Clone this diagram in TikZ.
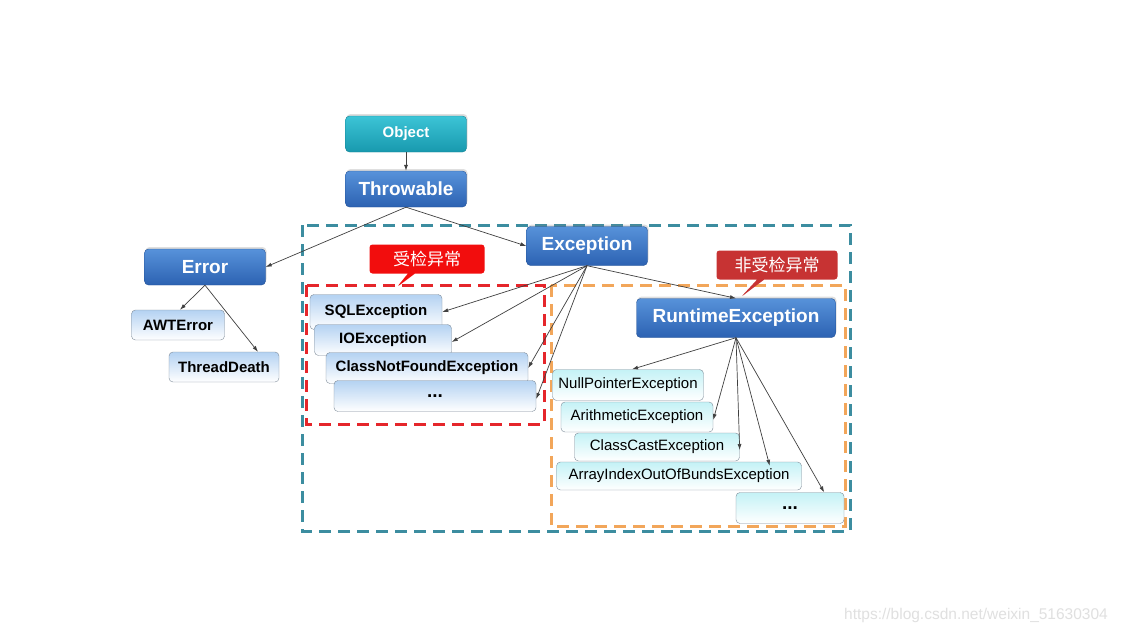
\documentclass[tikz,border=0pt]{standalone}
\usepackage{fontspec}
\setmainfont{Liberation Sans}
\newfontfamily\cjk{Noto Sans CJK SC}
\usetikzlibrary{arrows.meta,shapes.callouts,shadows}
\definecolor{blueTop}{HTML}{5792DA}
\definecolor{blueBot}{HTML}{2C62B2}
\definecolor{cyanTop}{HTML}{3CC4D6}
\definecolor{cyanBot}{HTML}{1899AE}
\definecolor{paleBlue}{HTML}{B4D2F2}
\definecolor{paleCyan}{HTML}{C4F2F6}
\definecolor{edgeGray}{HTML}{7F8C99}
\definecolor{tealDash}{HTML}{3C8DA0}
\definecolor{redDash}{HTML}{E5262B}
\definecolor{orangeDash}{HTML}{F2A65A}
\definecolor{calloutRed}{HTML}{F20D0D}
\definecolor{calloutDark}{HTML}{C73333}
\tikzset{
  bigbox/.style={rectangle,rounded corners=4,inner sep=0,minimum height=36,
    top color=blueTop,bottom color=blueBot,draw=blueBot!85!black,
    text=white,font=\fontsize{19}{22}\selectfont\bfseries,
    drop shadow={opacity=0.25,shadow xshift=1,shadow yshift=-2}},
  checkbox/.style={rectangle,rounded corners=4,inner sep=0,minimum height=31,
    top color=paleBlue,bottom color=white,draw=edgeGray,
    font=\fontsize{15}{18}\selectfont\bfseries},
  freebox/.style={rectangle,rounded corners=4,inner sep=0,minimum height=30,
    top color=paleCyan,bottom color=white,draw=edgeGray,
    font=\fontsize{15}{18}\selectfont},
  tag/.style={rectangle callout,rounded corners=3,inner sep=0,minimum height=29,
    text=white,font=\cjk\fontsize{17}{20}\selectfont},
  link/.style={-{Latex[length=6,width=4]},draw=black!75,line width=0.7},
  zone/.style={dashed,dash pattern=on 12 off 7,line width=3}
}
\begin{document}
\begin{tikzpicture}[x=1pt,y=-1pt]
  \useasboundingbox[fill=white] (0,0) rectangle (1121,634);
  %% Zones
  \draw[zone,tealDash] (302,225) rectangle (850,531);
  \draw[zone,redDash] (306,285) rectangle (544,424);
  \draw[zone,orangeDash] (551,285) rectangle (845,526);
  %% Top of the tree
  \node[bigbox,top color=cyanTop,bottom color=cyanBot,draw=cyanBot!85!black,
    minimum width=121,font=\fontsize{15}{18}\selectfont\bfseries] (Obj) at (406,134) {Object};
  \node[bigbox,minimum width=121] (Thr) at (406,189) {Throwable};
  \node[bigbox,minimum width=121] (Err) at (205,267) {Error};
  \node[bigbox,minimum width=121,minimum height=39] (Exc) at (587,246) {Exception};
  \node[bigbox,minimum width=199,minimum height=39] (Run) at (736,318) {RuntimeException};
  %% Error side
  \node[checkbox,minimum width=93,minimum height=30] (Awt) at (178,325) {AWTError};
  \node[checkbox,minimum width=110,minimum height=30] (Thd) at (224,367) {ThreadDeath};
  %% Checked exceptions
  \node[checkbox,minimum width=132,minimum height=35] (Sql) at (376,312) {SQLException};
  \node[checkbox,minimum width=137] (Ioe) at (383,340) {IOException};
  \node[checkbox,minimum width=202] (Cnf) at (427,368) {ClassNotFoundException};
  \node[checkbox,minimum width=202,font=\fontsize{19}{18}\selectfont\bfseries] (Chk) at (435,396) {...};
  %% Unchecked exceptions
  \node[freebox,minimum width=151,minimum height=31] (Npe) at (628,385) {NullPointerException};
  \node[freebox,minimum width=152] (Ari) at (637,417) {ArithmeticException};
  \node[freebox,minimum width=165,minimum height=28] (Cce) at (657,447) {ClassCastException};
  \node[freebox,minimum width=245,minimum height=28] (Aio) at (679,476) {ArrayIndexOutOfBundsException};
  \node[freebox,minimum width=108,minimum height=31,font=\fontsize{19}{18}\selectfont\bfseries] (Unc) at (790,508) {...};
  %% Callouts
  \node[tag,fill=calloutRed,minimum width=115,callout absolute pointer={(397,287)}] (TagA) at (427,259) {受检异常};
  \node[tag,fill=calloutDark,minimum width=121,callout absolute pointer={(741,297)}] (TagB) at (777,265) {非受检异常};
  %% Links
  \draw[link] (Obj.south) -- (Thr.north);
  \draw[link] (Thr.south) -- (Err.east);
  \draw[link] (Thr.south) -- (Exc.west);
  \draw[link] (Err.south) -- ([xshift=2]Awt.north);
  \draw[link] (Err.south) -- ([xshift=34]Thd.north);
  \draw[link] (Exc.south) -- (Sql.east);
  \draw[link] (Exc.south) -- ([yshift=-2]Ioe.east);
  \draw[link] (Exc.south) -- (Cnf.east);
  \draw[link] (Exc.south) -- ([yshift=-3]Chk.east);
  \draw[link] (Exc.south) -- (Run.north);
  \draw[link] (Run.south) -- ([xshift=4]Npe.north);
  \draw[link] (Run.south) -- ([yshift=-3]Ari.east);
  \draw[link] (Run.south) -- ([yshift=-3]Cce.east);
  \draw[link] (Run.south) -- ([xshift=-32,yshift=-4]Aio.north east);
  \draw[link] (Run.south) -- ([xshift=-20]Unc.north east);
  %% Watermark
  \node[text=black!12,font=\fontsize{15.5}{18}\selectfont] (Mark) at (976,615) {https://blog.csdn.net/weixin\_51630304};
\end{tikzpicture}
\end{document}
